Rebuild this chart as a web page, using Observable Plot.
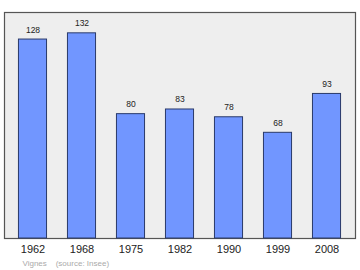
<!DOCTYPE html>
<html><head><meta charset="utf-8">
<script src="https://cdn.jsdelivr.net/npm/d3@7"></script>
<script src="https://cdn.jsdelivr.net/npm/@observablehq/plot@0.6"></script>
<style>body{margin:0;background:#fff}</style>
</head><body><div id="c"></div>
<script>
const years = ["1962","1968","1975","1982","1990","1999","2008"];
const population = [128,132,80,83,78,68,93];
const captionText = "Vignes    (source: Insee)";
const data = years.map((y,i)=>({year:y, value:population[i]}));
const chart = Plot.plot({
  width:360, height:270,
  marginTop:12, marginBottom:32, marginLeft:4, marginRight:5,
  style:{fontFamily:"Liberation Sans, Arial, sans-serif", background:"#fff"},
  x:{type:"band", domain:years, paddingInner:0.427, paddingOuter:0.295, round:false, label:null},
  y:{domain:[0,145.4], axis:null},
  marks:[
    Plot.frame({fill:"#eeeeee", stroke:"#555", strokeWidth:1.2}),
    Plot.barY(data,{x:"year", y:"value", fill:"#7196ff", stroke:"#2a3a6a", strokeWidth:1}),
    Plot.text(data,{x:"year", y:"value", text:d=>String(d.value), dy:-7, lineAnchor:"bottom", fontSize:8.5, fill:"#222"}),
    Plot.axisX({tickSize:0, tickPadding:7, fontSize:11, fill:"#222"}),
    Plot.text([captionText],{frameAnchor:"bottom-left", dx:18, dy:25, text:d=>d, fontSize:8, fill:"#aaa", textAnchor:"start", lineAnchor:"middle"})
  ]
});
document.getElementById("c").append(chart);
</script></body></html>
